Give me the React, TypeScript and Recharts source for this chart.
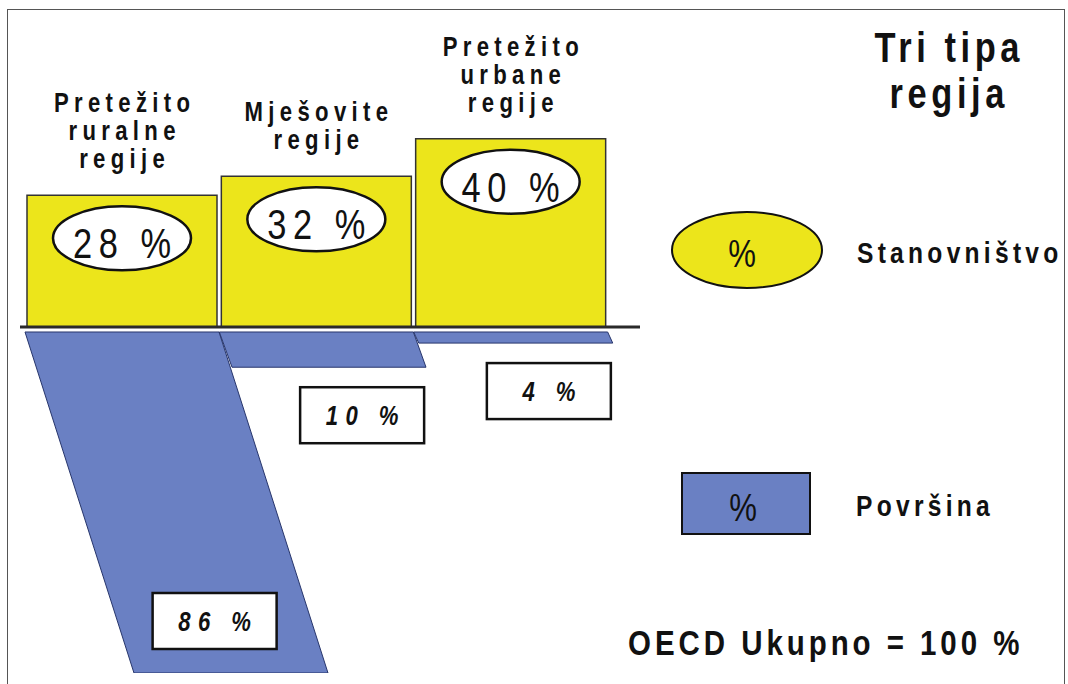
import { BarChart, Bar, XAxis, YAxis, ReferenceLine, LabelList } from 'recharts';

// Udio stanovništva i površine po tipu regije (OECD = 100 %)
const REGIONS = ['Pretežito ruralne regije', 'Mješovite regije', 'Pretežito urbane regije'];
const REGION_LINES = [
  ['Pretežito', 'ruralne', 'regije'],
  ['Mješovite', 'regije'],
  ['Pretežito', 'urbane', 'regije'],
];
const POPULATION = [28, 32, 40];
const AREA = [86, 10, 4];

const TITLE_LINES = ['Tri tipa', 'regija'];
const LEGEND_POP = 'Stanovništvo';
const LEGEND_AREA = 'Površina';
const TOTAL_NOTE = 'OECD Ukupno = 100 %';

const YELLOW = '#ece51b';
const BLUE = '#6a80c3';
const FONT = '"Liberation Sans", Arial, Helvetica, sans-serif';
const SQUEEZE = 0.82; // fake "narrow" face
const SLANT = 0.315; // horizontal drift of the area bars per pixel of depth

const data = REGIONS.map((region, i) => ({
  region,
  pop: POPULATION[i],
  area: -AREA[i],
}));

// condensed text: horizontally squeezed glyphs, spaced out
const NarrowText = ({ x, y, anchor = 'start', size, weight = 'normal', italic = false, spacing = 0, children }: any) => {
  const dx = anchor === 'middle' ? (spacing * SQUEEZE) / 2 : 0;
  return (
    <text transform={`translate(${x + dx},${y}) scale(${SQUEEZE},1)`} textAnchor={anchor}
      fontFamily={FONT} fontSize={size} fontWeight={weight} fontStyle={italic ? 'italic' : 'normal'}
      letterSpacing={spacing} fill="#111">
      {children}
    </text>
  );
};

// slanted "parallelogram" for the area bars (drawn below the baseline)
const SlantedBar = (props: any) => {
  const { x, y, width, height } = props;
  const top = Math.min(y, y + height);
  const bottom = Math.max(y, y + height);
  const s = SLANT * (bottom - top);
  const t = top + 5;
  const pts = `${x},${t} ${x + width},${t} ${x + width + s},${bottom} ${x + s},${bottom}`;
  return <polygon points={pts} fill={BLUE} stroke="#27356b" strokeWidth={1} />;
};

const AreaLabel = (props: any) => {
  const { x, y, width, height, value } = props;
  const top = Math.min(y, y + height);
  const bottom = Math.max(y, y + height);
  const inside = bottom - top > 150;
  const cy = inside ? bottom - 52 : bottom + 48;
  const cx = x + width / 2 + SLANT * (cy - top) + (inside ? 0 : 18);
  return (
    <g>
      <rect x={cx - 62} y={cy - 28} width={124} height={56} fill="#fff" stroke="#111" strokeWidth={2.5} />
      <NarrowText x={cx} y={cy + 10} anchor="middle" size={27} weight="bold" italic spacing={9}>
        {`${Math.abs(value)} %`}
      </NarrowText>
    </g>
  );
};

const PopLabel = (props: any) => {
  const { x, y, width, value, index } = props;
  const cx = x + width / 2;
  const cy = y + 43;
  const lines = REGION_LINES[index] || [];
  const lastBase = y - 27;
  return (
    <g>
      <ellipse cx={cx} cy={cy} rx={69} ry={32} fill="#fff" stroke="#111" strokeWidth={2.5} />
      <NarrowText x={cx} y={cy + 20} anchor="middle" size={42} spacing={8}>
        {`${value} %`}
      </NarrowText>
      {lines.map((ln, i) => (
        <NarrowText key={i} x={cx} y={lastBase - (lines.length - 1 - i) * 28} anchor="middle"
          size={27} weight="bold" spacing={6.5}>
          {ln}
        </NarrowText>
      ))}
    </g>
  );
};

export default function App() {
  return (
    <div style={{ position: 'fixed', left: 0, top: 0, width: 1068, height: 684, background: '#fff', overflow: 'hidden' }}>
      <div style={{ position: 'absolute', left: 7, top: 9, width: 1056, height: 700, border: '1.5px solid #555' }} />
      <div style={{ position: 'absolute', left: 0, top: 0 }}>
        <BarChart width={1068} height={684} data={data} margin={{ top: 20, right: 428, bottom: 11, left: 20 }}>
          <XAxis xAxisId="pop" dataKey="region" hide padding={{ left: 5, right: 32 }} />
          <XAxis xAxisId="area" dataKey="region" hide padding={{ left: 5, right: 32 }} />
          <YAxis yAxisId="pop" type="number" hide domain={[-73.5, 65.2]} allowDataOverflow />
          <YAxis yAxisId="area" type="number" hide domain={[-86, 76.3]} allowDataOverflow />

          <Bar xAxisId="area" yAxisId="area" dataKey="area" barSize={194}
            shape={<SlantedBar />} isAnimationActive={false}>
            <LabelList dataKey="area" content={<AreaLabel />} />
          </Bar>

          <Bar xAxisId="pop" yAxisId="pop" dataKey="pop" barSize={190} fill={YELLOW}
            stroke="#333" strokeWidth={1.5} isAnimationActive={false}>
            <LabelList dataKey="pop" content={<PopLabel />} />
          </Bar>

          <ReferenceLine xAxisId="pop" yAxisId="pop" y={0} stroke="#2a2a2a" strokeWidth={3} />
        </BarChart>
      </div>

      {/* title, legend and note */}
      <svg width={1068} height={684} style={{ position: 'absolute', left: 0, top: 0, pointerEvents: 'none' }}>
        {TITLE_LINES.map((t, i) => (
          <NarrowText key={t} x={947} y={62 + i * 46} anchor="middle" size={42} weight="bold" spacing={5.6}>
            {t}
          </NarrowText>
        ))}

        <ellipse cx={747} cy={250} rx={75} ry={38} fill={YELLOW} stroke="#111" strokeWidth={2} />
        <NarrowText x={742} y={267} anchor="middle" size={38}>%</NarrowText>
        <NarrowText x={857} y={263} size={30} weight="bold" spacing={5.2}>{LEGEND_POP}</NarrowText>

        <rect x={682} y={473} width={128} height={61} fill={BLUE} stroke="#111" strokeWidth={2} />
        <NarrowText x={743} y={521} anchor="middle" size={38}>%</NarrowText>
        <NarrowText x={856} y={516} size={30} weight="bold" spacing={5.2}>{LEGEND_AREA}</NarrowText>

        <NarrowText x={628} y={655} size={36} weight="bold" spacing={4.8}>{TOTAL_NOTE}</NarrowText>
      </svg>
    </div>
  );
}
